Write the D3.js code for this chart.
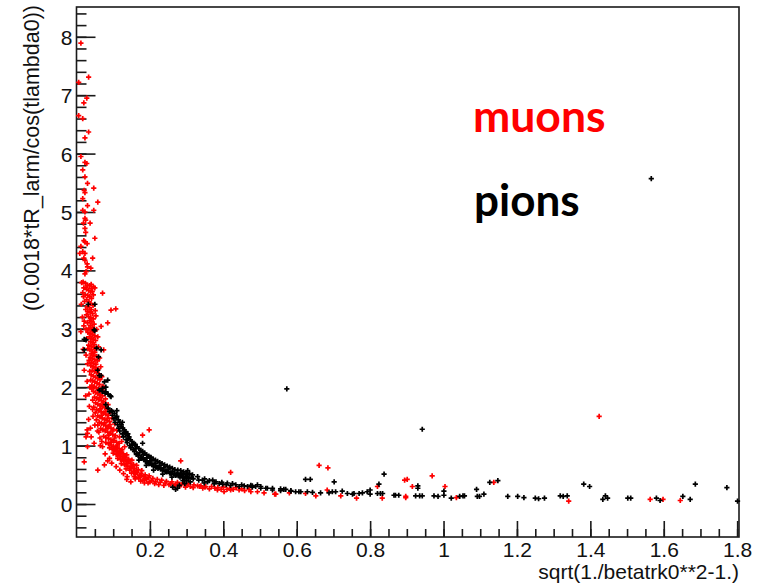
<!DOCTYPE html>
<html>
<head>
<meta charset="utf-8">
<script src="https://cdn.jsdelivr.net/npm/d3@7"></script>
<style>
  html, body { margin: 0; padding: 0; background: #fff; }
  svg { display: block; }
</style>
</head>
<body>
<svg id="chart" width="759" height="587"></svg>
<script>
// ---- data ----
const xTickValues = [0.2, 0.4, 0.6, 0.8, 1.0, 1.2, 1.4, 1.6, 1.8];
const xTickLabels = ["0.2", "0.4", "0.6", "0.8", "1", "1.2", "1.4", "1.6", "1.8"];
const yTickValues = [0, 1, 2, 3, 4, 5, 6, 7, 8];
const yTickLabels = ["0", "1", "2", "3", "4", "5", "6", "7", "8"];
const xTitle = "sqrt(1./betatrk0**2-1.)";
const yTitle = "(0.0018*tR_larm/cos(tlambda0))";
const legendNames = ["muons", "pions"];

const muons = [
  [0.012,7.89],[0.006,7.22],[0.033,7.31],[0.028,6.95],[0.020,6.87],[0.006,6.65],[0.017,6.60],[0.033,6.37],[0.023,6.27],
  [0.012,5.95],[0.023,5.85],[0.028,5.83],[0.017,5.72],[0.023,5.60],[0.030,5.49],[0.047,5.41],[0.021,5.37],[0.023,5.33],
  [0.017,5.23],[0.058,5.17],[0.030,5.11],[0.047,5.03],[0.017,5.03],[0.023,5.00],[0.023,4.89],[0.025,4.86],[0.037,4.81],
  [0.019,4.81],[0.023,4.72],[0.025,4.65],[0.050,4.55],[0.020,4.51],[0.023,4.49],[0.029,4.46],[0.012,4.41],[0.017,4.32],
  [0.023,4.29],[0.009,4.29],[0.020,4.21],[0.044,4.21],[0.023,4.17],[0.029,4.11],[0.030,4.06],[0.039,4.04],[0.026,3.98],[0.023,3.94],
  [0.014,3.79],[0.018,3.80],[0.024,3.78],[0.030,3.75],[0.036,3.74],[0.040,3.76],[0.046,3.72],[0.050,3.70],[0.020,3.70],
  [0.027,3.68],[0.033,3.66],[0.038,3.63],[0.043,3.64],[0.017,3.62],[0.024,3.58],[0.031,3.57],[0.036,3.55],[0.041,3.52],
  [0.028,3.50],[0.022,3.47],[0.034,3.46],[0.039,3.43],[0.045,3.40],[0.013,3.42],[0.071,3.61],[0.094,3.32],[0.107,3.34],
  [0.085,3.10],[0.067,3.04],
  [0.029,3.38],[0.035,3.36],[0.040,3.33],[0.031,3.30],[0.037,3.28],[0.044,3.26],[0.027,3.24],[0.033,3.21],[0.039,3.19],
  [0.046,3.17],[0.036,3.14],[0.042,3.12],[0.030,3.10],[0.048,3.08],[0.038,3.06],[0.044,3.03],[0.034,3.01],[0.040,2.98],
  [0.047,2.96],[0.031,2.94],[0.037,2.92],[0.043,2.90],[0.050,2.88],[0.012,2.95],[0.016,3.20],[0.020,3.05],
  [0.035,2.86],[0.041,2.84],[0.046,2.82],[0.052,2.80],[0.038,2.78],[0.044,2.76],[0.049,2.73],[0.033,2.72],[0.040,2.70],
  [0.047,2.68],[0.053,2.66],[0.036,2.64],[0.043,2.62],[0.050,2.60],[0.040,2.57],[0.046,2.55],[0.055,2.53],[0.037,2.51],
  [0.043,2.49],[0.050,2.47],[0.057,2.45],[0.041,2.43],[0.047,2.41],[0.053,2.39],[0.039,2.37],[0.045,2.35],[0.051,2.33],
  [0.058,2.31],[0.043,2.29],[0.049,2.27],[0.055,2.25],[0.061,2.23],[0.021,2.29],[0.026,2.55],[0.030,2.40],[0.018,2.65],
  [0.074,2.64],
  [0.040,2.21],[0.046,2.19],[0.052,2.17],[0.058,2.15],[0.064,2.13],[0.044,2.11],[0.050,2.09],[0.056,2.07],[0.062,2.05],
  [0.042,2.03],[0.048,2.01],[0.054,1.99],[0.060,1.97],[0.067,1.95],[0.046,1.93],[0.052,1.91],[0.058,1.89],[0.065,1.87],
  [0.071,1.85],[0.049,1.83],[0.055,1.81],[0.061,1.79],[0.068,1.77],[0.074,1.75],[0.037,2.00],[0.034,1.88],[0.072,2.02],[0.078,1.92],
  [0.052,1.73],[0.058,1.71],[0.064,1.69],[0.070,1.67],[0.077,1.65],[0.083,1.63],[0.055,1.62],[0.061,1.60],[0.067,1.58],
  [0.073,1.56],[0.080,1.54],[0.087,1.52],[0.058,1.51],[0.064,1.49],[0.070,1.47],[0.076,1.45],[0.083,1.43],[0.090,1.41],
  [0.062,1.40],[0.068,1.38],[0.074,1.36],[0.080,1.34],[0.087,1.32],[0.094,1.30],[0.101,1.28],[0.066,1.29],[0.072,1.27],
  [0.078,1.25],[0.085,1.23],[0.092,1.21],[0.099,1.19],[0.106,1.17],[0.035,1.67],[0.029,1.27],[0.030,1.21],[0.045,1.50],
  [0.050,1.35],[0.057,1.25],
  [0.074,1.16],[0.080,1.14],[0.087,1.12],[0.094,1.10],[0.101,1.08],[0.109,1.06],[0.116,1.04],[0.080,1.05],[0.087,1.03],
  [0.094,1.01],[0.101,0.99],[0.108,0.97],[0.116,0.95],[0.124,0.93],[0.090,0.96],[0.097,0.94],[0.104,0.92],[0.112,0.90],
  [0.120,0.88],[0.128,0.86],[0.137,0.84],[0.100,0.87],[0.108,0.85],[0.116,0.83],[0.124,0.81],[0.133,0.79],[0.142,0.77],
  [0.151,0.75],[0.048,1.04],[0.065,1.00],[0.026,1.15],[0.030,0.98],[0.021,0.72],[0.058,0.58],[0.076,0.67],[0.090,0.78],
  [0.180,1.18],[0.198,1.27],
  [0.112,0.78],[0.120,0.76],[0.128,0.74],[0.137,0.72],[0.146,0.70],[0.155,0.68],[0.164,0.66],[0.122,0.69],[0.131,0.67],
  [0.140,0.65],[0.149,0.63],[0.158,0.61],[0.168,0.59],[0.178,0.57],[0.135,0.60],[0.145,0.58],[0.155,0.56],[0.165,0.54],
  [0.176,0.52],[0.187,0.50],[0.198,0.48],[0.150,0.53],[0.161,0.51],[0.172,0.49],[0.184,0.47],[0.196,0.45],[0.208,0.44],
  [0.220,0.42],[0.157,0.47],[0.148,0.38],[0.170,0.44],[0.190,0.42],[0.205,0.40],[0.232,0.41],[0.245,0.39],
  [0.215,0.38],[0.228,0.37],[0.242,0.36],[0.256,0.35],[0.270,0.34],[0.285,0.33],[0.300,0.32],[0.260,0.38],[0.275,0.37],
  [0.290,0.36],[0.305,0.35],[0.320,0.33],[0.335,0.30],[0.350,0.29],[0.368,0.30],[0.385,0.28],[0.400,0.29],[0.418,0.27],
  [0.435,0.28],[0.450,0.26],[0.310,0.30],[0.330,0.31],[0.284,0.74],[0.420,0.54],[0.252,0.33],
  [0.339,0.31],[0.352,0.30],[0.384,0.24],[0.410,0.25],[0.402,0.21],[0.420,0.24],[0.443,0.24],[0.475,0.21],[0.511,0.19],
  [0.543,0.17],[0.624,0.18],[0.652,0.14],[0.683,0.24],
  [0.470,0.25],[0.493,0.21],[0.540,0.17],[0.580,0.19],[0.661,0.66],[0.685,0.62],[0.720,0.14],[0.763,0.10],
  [0.820,0.30],[0.833,0.10],[0.897,0.11],[0.901,0.42],[0.894,0.41],[0.915,0.30],[0.969,0.48],[1.004,0.30],[1.035,0.11],
  [0.897,0.13],[1.137,0.37],[1.341,0.05],[1.424,1.50],[1.563,0.08],[1.598,0.08],[1.645,0.06],
  [0.026,3.71],[0.041,3.69],[0.019,3.55],[0.046,3.58],[0.025,3.33],[0.051,3.31],[0.021,3.13],[0.053,3.22],[0.026,2.99],
  [0.055,2.99],[0.028,2.83],[0.058,2.86],[0.031,2.66],[0.060,2.69],[0.034,2.46],[0.063,2.50],[0.036,2.27],[0.066,2.35],
  [0.039,2.12],[0.069,2.18],[0.042,1.97],[0.073,1.99],
  [0.044,1.78],[0.079,1.80],[0.047,1.66],[0.086,1.70],[0.051,1.56],[0.093,1.58],[0.054,1.44],[0.097,1.47],[0.058,1.35],
  [0.104,1.37],[0.061,1.23],[0.110,1.26],[0.064,1.13],[0.117,1.15],[0.069,1.07],[0.123,1.07],[0.071,0.98],[0.131,0.98],
  [0.063,1.82],[0.071,1.71],[0.066,1.63],[0.078,1.58],[0.069,1.52],[0.085,1.47],[0.077,1.39],[0.091,1.36],[0.083,1.29],
  [0.097,1.25],[0.088,1.18],[0.104,1.13],[0.095,1.06],[0.112,1.01],[0.106,0.95],[0.121,0.91],[0.114,0.86],[0.131,0.82],
  [0.126,0.77],[0.141,0.74],[0.136,0.69],[0.153,0.64],[0.146,0.61],[0.163,0.57],[0.159,0.53],[0.176,0.49],[0.169,0.46],
  [0.188,0.44],[0.181,0.41],[0.200,0.38],[0.195,0.36],[0.213,0.35],[0.224,0.33],[0.238,0.32],[0.266,0.31],[0.281,0.30],
  [0.297,0.29],[0.318,0.28],[0.344,0.27],[0.362,0.26],[0.377,0.27],[0.394,0.25],[0.427,0.25],[0.458,0.23],
  [0.078,0.86],[0.085,0.74],[0.096,0.70],[0.108,0.64],[0.118,0.58],[0.128,0.52],[0.138,0.47],[0.137,0.42],[0.160,0.43],
  [0.175,0.39],[0.185,0.36],[0.033,1.45],[0.038,1.30],[0.040,1.15],[0.044,1.62],[0.025,1.85],[0.029,2.10]
];

const pions = [
  [1.566,5.57],[0.573,1.97],[0.942,1.28],
  [0.032,3.42],[0.050,3.42],[0.048,2.98],[0.021,2.82],[0.021,2.64],[0.055,2.67],[0.060,2.52],[0.058,2.29],[0.062,2.20],
  [0.067,2.20],[0.085,2.12],[0.080,2.00],[0.076,2.09],[0.071,1.98],[0.080,1.92],[0.092,1.85],[0.067,2.64],[0.050,2.97],[0.026,2.81],
  [0.062,1.95],[0.070,1.93],[0.078,1.90],[0.086,1.88],[0.094,1.84],
  [0.080,1.70],[0.086,1.64],[0.090,1.58],[0.095,1.60],[0.098,1.52],[0.102,1.46],[0.105,1.40],[0.108,1.48],[0.112,1.36],
  [0.115,1.30],[0.118,1.25],[0.122,1.33],[0.125,1.20],[0.128,1.15],[0.132,1.22],[0.135,1.10],[0.138,1.05],[0.142,1.12],
  [0.145,1.00],[0.148,0.96],[0.152,1.02],[0.155,0.93],[0.158,0.90],[0.162,0.95],[0.165,0.86],[0.168,0.83],[0.172,0.88],
  [0.175,0.80],[0.178,0.78],[0.182,0.84],[0.185,0.76],[0.188,0.73],[0.192,0.79],[0.195,0.71],[0.198,0.69],[0.202,0.74],
  [0.206,0.67],[0.210,0.65],[0.214,0.70],[0.218,0.63],[0.222,0.61],[0.226,0.66],[0.230,0.60],[0.234,0.58],[0.238,0.62],
  [0.242,0.56],[0.246,0.55],[0.250,0.59],[0.254,0.53],[0.258,0.52],[0.262,0.56],[0.266,0.51],[0.270,0.49],[0.274,0.53],
  [0.278,0.48],[0.282,0.46],[0.286,0.50],[0.290,0.45],[0.294,0.43],[0.298,0.47],[0.303,0.57],[0.300,0.40],[0.180,1.04],
  [0.275,0.27],[0.270,0.25],[0.110,1.60],[0.125,1.40],[0.140,1.20],[0.160,1.00],[0.200,0.80],
  [0.170,0.75],[0.190,0.66],[0.210,0.58],[0.235,0.51],[0.260,0.46],
  [0.284,0.53],[0.290,0.40],[0.295,0.35],[0.300,0.50],[0.306,0.44],[0.310,0.38],[0.314,0.46],
  [0.330,0.47],[0.343,0.41],[0.348,0.36],[0.357,0.38],[0.371,0.41],[0.375,0.35],[0.389,0.35],[0.398,0.34],[0.411,0.36],
  [0.425,0.35],[0.434,0.33],[0.443,0.30],[0.457,0.31],[0.466,0.30],[0.479,0.29],[0.493,0.33],[0.502,0.30],[0.516,0.27],
  [0.534,0.24],[0.556,0.23],[0.570,0.25],[0.584,0.23],[0.597,0.21],[0.611,0.21],[0.629,0.21],[0.643,0.20],[0.665,0.19],[0.688,0.19],
  [0.565,0.25],[0.556,0.26],[0.534,0.27],[0.520,0.27],[0.502,0.27],[0.488,0.30],[0.479,0.31],[0.584,0.22],[0.606,0.21],
  [0.624,0.42],[0.637,0.42],[0.702,0.38],
  [0.697,0.21],[0.706,0.21],[0.724,0.22],[0.738,0.18],[0.752,0.17],[0.756,0.18],[0.770,0.18],[0.779,0.19],[0.792,0.21],
  [0.800,0.24],[0.800,0.17],[0.824,0.34],[0.838,0.51],[0.820,0.18],[0.828,0.18],[0.834,0.18],[0.865,0.15],[0.869,0.15],[0.878,0.15],
  [0.930,0.31],[0.930,0.27],[0.924,0.14],[0.935,0.14],[0.942,0.14],[0.974,0.14],[0.985,0.13],[1.001,0.22],[1.001,0.15],
  [1.021,0.10],[1.044,0.13],[1.053,0.14],[1.057,0.14],[1.090,0.25],[1.092,0.13],[1.098,0.13],[1.110,0.17],[1.126,0.37],
  [1.148,0.40],[1.175,0.13],[1.202,0.13],[1.219,0.11],[1.250,0.10],[1.259,0.09],[1.275,0.10],[1.318,0.14],[1.326,0.13],
  [1.337,0.14],[1.382,0.34],[1.398,0.30],[1.434,0.08],[1.441,0.14],[1.447,0.10],[1.502,0.10],[1.510,0.10],[1.580,0.10],
  [1.590,0.06],[1.652,0.13],[1.672,0.08],[1.686,0.34],[1.772,0.28],[1.801,0.05],
  [0.098,1.58],[0.104,1.55],[0.110,1.50],[0.114,1.44],[0.118,1.40],[0.122,1.36],[0.126,1.30],[0.130,1.27],[0.134,1.24],
  [0.138,1.18],[0.143,1.15],[0.147,1.10],[0.151,1.07],[0.156,1.04],[0.160,1.02],[0.165,0.98],[0.170,0.95],[0.175,0.92],
  [0.180,0.90],[0.186,0.87],[0.191,0.84],[0.197,0.82],[0.203,0.80],[0.209,0.77],[0.215,0.75],[0.221,0.73],[0.227,0.71],
  [0.233,0.69],[0.240,0.67],[0.247,0.65],[0.254,0.63],[0.261,0.61],[0.268,0.59],[0.276,0.58],[0.284,0.57],[0.292,0.55],
  [0.300,0.53],[0.308,0.52],[0.316,0.50],
  [0.163,0.85],[0.176,0.80],[0.189,0.74],[0.203,0.69],[0.216,0.64],[0.229,0.60],[0.244,0.56],
  [0.257,0.53],[0.272,0.50],[0.287,0.48],[0.303,0.46],[0.318,0.43],[0.333,0.41],[0.349,0.43],[0.362,0.40],[0.380,0.38],
  [0.396,0.37],[0.408,0.33],[0.420,0.32],[0.450,0.33],[0.475,0.32],[0.262,0.29],[0.280,0.32]
];

(function () {
  // ---- layout ----
  const svg = d3.select("#chart");
  const W = 759, H = 587;
  const pL = 76.5, pR = 739, pT = 7, pB = 537;
  const x = d3.scaleLinear().domain([0, 1.805]).range([pL, pR]);
  const y = d3.scaleLinear().domain([-0.565, 8.51]).range([pB, pT]);
  const font = "'Liberation Sans', Arial, Helvetica, sans-serif";
  const axisColor = "#1a1a1a";

  svg.append("rect").attr("width", W).attr("height", H).attr("fill", "#fff");

  // frame
  svg.append("rect")
    .attr("x", pL).attr("y", pT)
    .attr("width", pR - pL).attr("height", pB - pT)
    .attr("fill", "none").attr("stroke", axisColor).attr("stroke-width", 1.6);

  // x axis ticks (inward)
  const xMinor = d3.range(0.05, 1.8001, 0.05).map(v => +v.toFixed(2));
  const xAxisMinor = d3.axisBottom(x).tickValues(xMinor).tickSize(-8).tickFormat("");
  const xAxisMajor = d3.axisBottom(x).tickValues(xTickValues).tickSize(-16)
    .tickFormat((d, i) => xTickLabels[i]).tickPadding(0);
  const gxm = svg.append("g").attr("transform", `translate(0,${pB})`).call(xAxisMinor);
  const gx = svg.append("g").attr("transform", `translate(0,${pB})`).call(xAxisMajor);
  [gxm, gx].forEach(g => {
    g.select(".domain").remove();
    g.selectAll("line").attr("stroke", axisColor).attr("stroke-width", 1.6);
  });
  gx.selectAll("text").attr("y", 20).attr("dy", 0)
    .attr("font-family", font).attr("font-size", 21).attr("fill", "#111");

  // y axis ticks (inward)
  const yMinor = d3.range(-0.4, 8.41, 0.2).map(v => +v.toFixed(1));
  const yAxisMinor = d3.axisLeft(y).tickValues(yMinor).tickSize(-10).tickFormat("");
  const yAxisMajor = d3.axisLeft(y).tickValues(yTickValues).tickSize(-19)
    .tickFormat((d, i) => yTickLabels[i]);
  const gym = svg.append("g").attr("transform", `translate(${pL},0)`).call(yAxisMinor);
  const gy = svg.append("g").attr("transform", `translate(${pL},0)`).call(yAxisMajor);
  [gym, gy].forEach(g => {
    g.select(".domain").remove();
    g.selectAll("line").attr("stroke", axisColor).attr("stroke-width", 1.6);
  });
  gy.selectAll("text").attr("x", -4).attr("dy", "0.36em")
    .attr("font-family", font).attr("font-size", 21).attr("fill", "#111");

  // axis titles
  svg.append("text")
    .attr("x", pR).attr("y", 579)
    .attr("text-anchor", "end")
    .attr("font-family", font).attr("font-size", 21).attr("fill", "#111")
    .text(xTitle);
  svg.append("text")
    .attr("transform", `translate(39,${pT - 2}) rotate(-90)`)
    .attr("text-anchor", "end")
    .attr("font-family", font).attr("font-size", 21.5).attr("fill", "#111")
    .text(yTitle);

  // markers
  const cross = "M-2.6,0H2.6M0,-2.6V2.6";
  function drawSeries(data, color) {
    svg.append("g")
      .selectAll("path")
      .data(data)
      .join("path")
      .attr("d", cross)
      .attr("transform", d => `translate(${x(d[0])},${y(d[1])})`)
      .attr("stroke", color)
      .attr("stroke-width", 1.7)
      .attr("fill", "none");
  }
  drawSeries(muons, "#ff0000");
  drawSeries(pions, "#000000");

  // legend text
  svg.append("text")
    .attr("x", 473).attr("y", 132)
    .attr("font-family", "Lato, 'Open Sans', sans-serif").attr("font-weight", "bold")
    .attr("font-size", 44.5).attr("fill", "#ff0000")
    .text(legendNames[0]);
  svg.append("text")
    .attr("x", 474).attr("y", 216)
    .attr("font-family", "Lato, 'Open Sans', sans-serif").attr("font-weight", "bold")
    .attr("font-size", 44).attr("fill", "#000000")
    .text(legendNames[1]);
})();
</script>
</body>
</html>
